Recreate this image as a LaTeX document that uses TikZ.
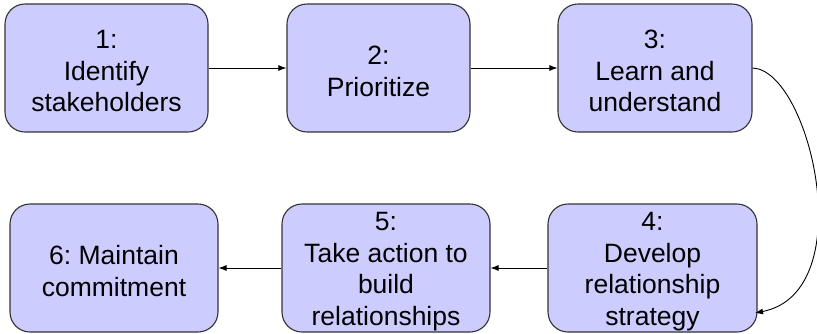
\documentclass[tikz,border=0pt]{standalone}
\usepackage{fontspec}
\setmainfont{Liberation Sans}
\usetikzlibrary{arrows.meta}
\definecolor{boxfill}{HTML}{CCCCFF}
\definecolor{boxline}{HTML}{333333}
% taller first line, so the text block sits a little lower in its box
\newcommand{\topstrut}{\rule{0pt}{25pt}}
\tikzset{
  stepbox/.style={draw=boxline, line width=1.1pt, fill=boxfill, rounded corners=20pt,
    align=center, inner sep=0pt, minimum height=128pt,
    font=\fontsize{26.5}{31.5}\selectfont\frenchspacing},
  flow/.style={line width=0.9pt, -{Latex[length=8pt,width=6pt]}}
}
\begin{document}
\begin{tikzpicture}[x=1pt, y=-1pt]
  \useasboundingbox (0,0) rectangle (817,333);
  % top row
  \node[stepbox, minimum width=203pt] (s1) at (106.5,68) {\topstrut 1:\\Identify\\stakeholders};
  \node[stepbox, minimum width=183pt] (s2) at (378.5,68) {\topstrut 2:\\Prioritize};
  \node[stepbox, minimum width=194pt] (s3) at (655,68) {\topstrut 3:\\Learn and\\understand};
  % bottom row
  \node[stepbox, minimum width=209pt] (s4) at (652.5,268) {\topstrut 4:\\Develop\\relationship\\strategy};
  \node[stepbox, minimum width=208pt] (s5) at (386,268) {\topstrut 5:\\Take action to\\build\\relationships};
  \node[stepbox, minimum width=208pt] (s6) at (114,268) {\topstrut 6: Maintain\\commitment};
  % connectors
  \draw[flow] (s1.east) -- (s2.west);
  \draw[flow] (s2.east) -- (s3.west);
  \coordinate (s4in) at (755,313);
  \draw[flow] (s3.east) .. controls (810,70) and (862,292) .. (s4in);
  \draw[flow] (s4.west) -- (s5.east);
  \draw[flow] (s5.west) -- (s6.east);
\end{tikzpicture}
\end{document}
